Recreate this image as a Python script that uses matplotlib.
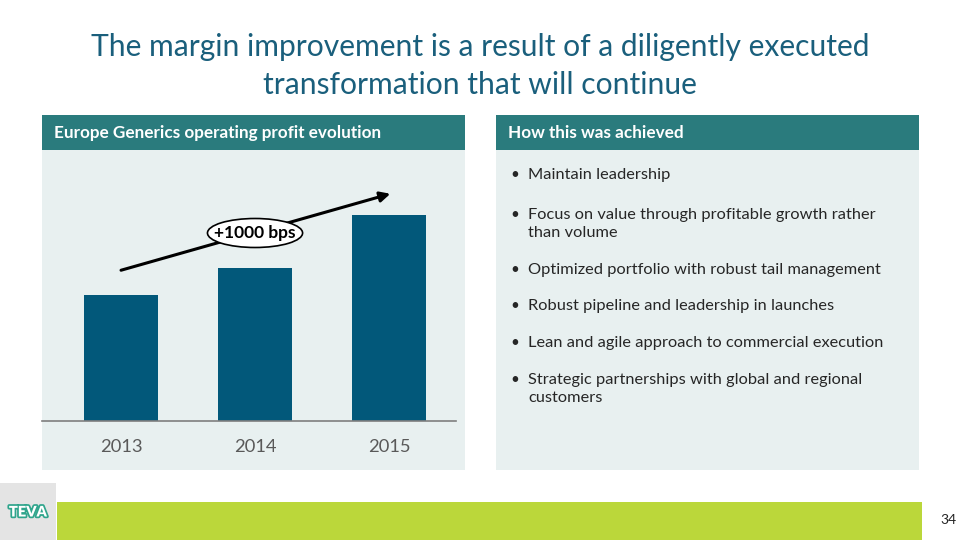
import matplotlib.pyplot as plt
import matplotlib.patheffects as pe
from matplotlib.patches import Rectangle, Ellipse

plt.rcParams['font.family'] = ['Lato', 'DejaVu Sans']

# chart data (relative operating profit)
years = ["2013", "2014", "2015"]
profit = [126, 153, 206]
arrow_label = "+1000 bps"

title_lines = "The margin improvement is a result of a diligently executed\ntransformation that will continue"
left_header = "Europe Generics operating profit evolution"
right_header = "How this was achieved"
bullets = [
    "Maintain leadership",
    "Focus on value through profitable growth rather\nthan volume",
    "Optimized portfolio with robust tail management",
    "Robust pipeline and leadership in launches",
    "Lean and agile approach to commercial execution",
    "Strategic partnerships with global and regional\ncustomers",
]
bullet_y = [175, 215, 270, 306, 343, 380]
page_no = "34"

TEAL = "#2A7B7D"
PANEL = "#E8F0F0"
BAR = "#02587A"
TITLE = "#1A5F7C"
GREEN = "#BBD73A"

fig = plt.figure(figsize=(9.6, 5.4), dpi=100)
bg = fig.add_axes([0, 0, 1, 1])
bg.set_xlim(0, 960)
bg.set_ylim(540, 0)
bg.axis("off")

bg.text(480, 47, title_lines.split("\n")[0], ha="center", va="center",
        fontsize=21.6, color=TITLE)
bg.text(480, 85, title_lines.split("\n")[1], ha="center", va="center",
        fontsize=21.6, color=TITLE)

# panels
for x0 in (42, 496):
    bg.add_patch(Rectangle((x0, 115), 423, 355, color=PANEL, lw=0))
    bg.add_patch(Rectangle((x0, 115), 423, 35, color=TEAL, lw=0))
bg.text(54, 133, left_header, ha="left", va="center", fontsize=12.3,
        color="white", fontweight="bold")
bg.text(508, 133, right_header, ha="left", va="center", fontsize=12.3,
        color="white", fontweight="bold")

for txt, y in zip(bullets, bullet_y):
    lines = txt.split("\n")
    bg.text(510, y, "\u2022", ha="left", va="center", fontsize=11, color="#262626")
    for i, line in enumerate(lines):
        bg.text(528, y + 18 * i, line, ha="left", va="center", fontsize=11.8,
                color="#262626")

# footer
bg.add_patch(Rectangle((0, 483), 56, 57, color="#E4E4E4", lw=0))
bg.add_patch(Rectangle((57, 502), 865, 38, color=GREEN, lw=0))
bg.text(28, 512, "TEVA", ha="center", va="center", fontsize=10.5,
        fontweight="heavy", color="white",
        path_effects=[pe.withStroke(linewidth=2.5, foreground="#2FA58C")])
bg.text(948, 520, page_no, ha="center", va="center", fontsize=10, color="#262626")

# bar chart
ax = fig.add_axes([42 / 960, 1 - 421 / 540, 414 / 960, 271 / 540])
ax.set_xlim(-0.59, 2.5)
ax.set_ylim(0, 271)
ax.patch.set_alpha(0)
x = range(len(years))
ax.bar(x, profit, width=0.55, color=BAR)
for s in ("top", "right", "left"):
    ax.spines[s].set_visible(False)
ax.spines["bottom"].set_color("#7F7F7F")
ax.spines["bottom"].set_linewidth(1.2)
ax.set_yticks([])
ax.set_xticks(list(x))
ax.set_xticklabels(years, fontsize=13.2, color="#595959")
ax.tick_params(axis="x", length=0, pad=13)

ax.annotate("", xy=(2.03, 228), xytext=(-0.02, 150),
            arrowprops=dict(arrowstyle="-|>,head_length=0.6,head_width=0.3",
                            color="black", lw=2.2))
ax.add_patch(Ellipse((1.0, 188), 0.71, 29, fc="white", ec="black", lw=1.2, zorder=5))
ax.text(1.0, 188, arrow_label, ha="center", va="center", fontsize=12.5,
        fontweight="bold", zorder=6)

fig.savefig("out.png", dpi=100)
